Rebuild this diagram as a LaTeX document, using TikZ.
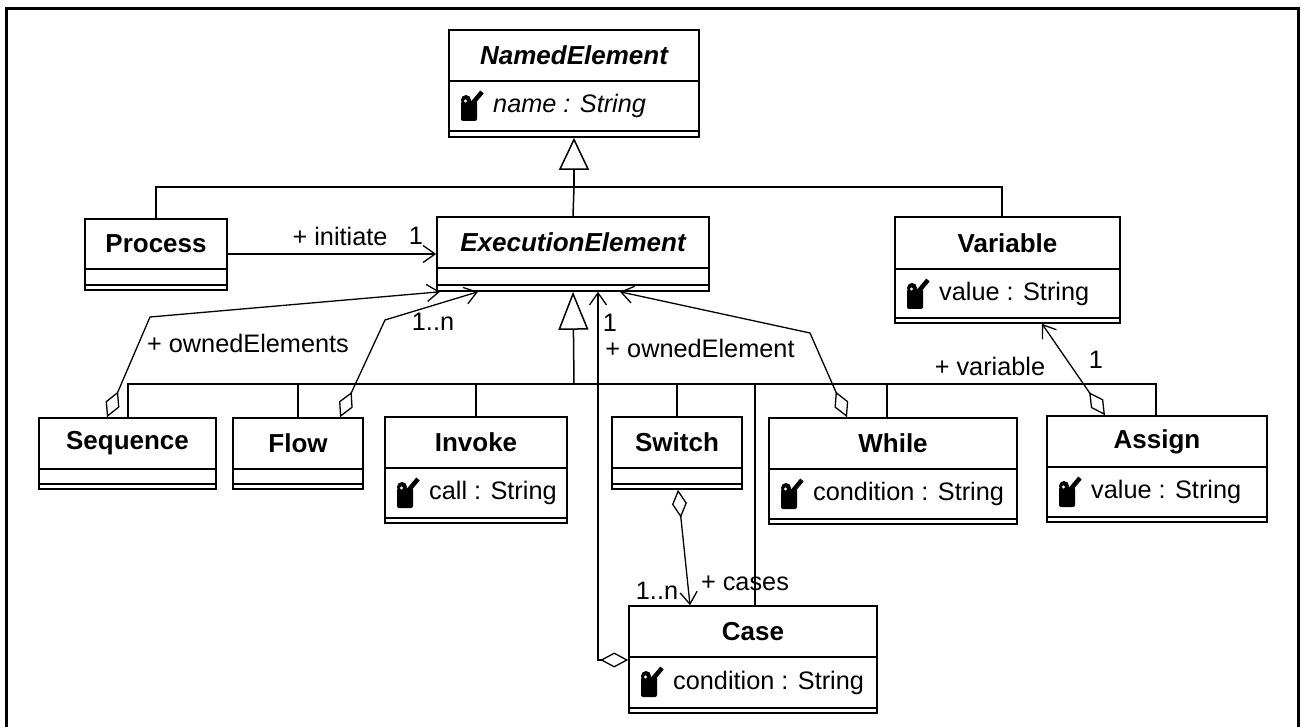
\documentclass[tikz,border=0pt]{standalone}
\usepackage{fontspec}
\setmainfont{Liberation Sans}
\usetikzlibrary{arrows.meta,fit}

\tikzset{
  classbox/.style={draw, line width=1.6pt, inner sep=0pt, fill=white},
  classline/.style={line width=1.6pt},
  titletext/.style={font=\fontsize{26}{31}\selectfont\bfseries, inner sep=0pt},
  attrtext/.style={font=\fontsize{25.3}{30}\selectfont, inner sep=0pt, anchor=west},
  lbl/.style={font=\fontsize{25.3}{30}\selectfont, inner sep=0pt},
  genline/.style={line width=1.5pt},
  assoc/.style={line width=1.3pt, -{Straight Barb[length=12pt,width=17pt]}},
  aggr/.style={line width=1.3pt, {Diamond[open,length=28pt,width=15pt]}-{Straight Barb[length=12pt,width=17pt]}},
  attricon/.pic={
    \fill[rounded corners=2pt] (0,31) -- (0,11) -- (16,11) -- (16,31) -- cycle;
    \fill (5,10) circle[radius=5pt];
    \draw[line width=4.5pt] (10,15) -- (21,2);
    \fill[white] (4.5,11) circle[radius=1.7pt];
  }
}

% #1 name, #2 left, #3 top, #4 right, #5 name/attribute divider,
% #6 attribute/operation divider, #7 bottom, #8 title, #9 attribute
\newcommand{\umlclass}[9]{%
  \node[classbox, fit={(#2,#3) (#4,#7)}] (#1) {};
  \draw[classline] (#2,#5) -- (#4,#5) (#2,#6) -- (#4,#6);
  \node[titletext] (#1-name) at ({(#2+#4)/2},{(#3+#5)/2}) {#8};
  \ifx\relax#9\relax\else
    \pic at ({#2+12},{#5+9}) {attricon};
    \node[attrtext] (#1-attr) at ({#2+44},{(#5+#6)/2}) {#9};
  \fi
}

\begin{document}
\begin{tikzpicture}[x=1pt,y=-1pt]
\useasboundingbox (0,0) rectangle (1301,727);

% frame
\draw[line width=3pt] (6,727) -- (6,9) -- (1298,9) -- (1298,727);

% classes
\umlclass{named}{449}{30}{699}{81}{131}{137}{\itshape NamedElement}{\itshape name : String}
\umlclass{process}{85}{219}{227}{269}{285}{290}{Process}{}
\umlclass{exec}{437}{217}{709}{268}{285}{291}{\itshape ExecutionElement}{}
\umlclass{variable}{895}{217}{1120}{269}{318}{323}{Variable}{value : String}
\umlclass{seq}{39}{418}{216}{469}{484}{489}{Sequence}{}
\umlclass{flow}{233}{418}{363}{469}{484}{489}{Flow}{}
\umlclass{invoke}{385}{417}{567}{468}{518}{523}{Invoke}{call : String}
\umlclass{switch}{612}{417}{742}{468}{484}{489}{Switch}{}
\umlclass{while}{769}{418}{1017}{469}{519}{524}{While}{condition : String}
\umlclass{assign}{1047}{416}{1267}{467}{517}{522}{Assign}{value : String}
\umlclass{case}{629}{606}{877}{657}{708}{713}{Case}{condition : String}

% generalization to NamedElement
\draw[genline] (process.north) -- (156,187) -- (1002,187) -- (1002,0 |- variable.north);
\draw[genline] (exec.north) -- (574,187);
\draw[genline, -{Triangle[open,length=32pt,width=30pt]}] (574,187) -- (named.south);

% generalization to ExecutionElement
\draw[genline] (128,0 |- seq.north) -- (128,384) -- (1156,384) -- (1156,0 |- assign.north);
\draw[genline] (flow.north) -- (flow.north |- 0,384);
\draw[genline] (invoke.north) -- (invoke.north |- 0,384);
\draw[genline] (switch.north) -- (switch.north |- 0,384);
\draw[genline] (755,0 |- case.north) -- (755,384);
\draw[genline] (887,0 |- while.north) -- (887,384);
\draw[genline, -{Triangle[open,length=38pt,width=30pt]}] (574,384) -- (exec.south);

% associations
\draw[assoc] (process.east |- 0,254) -- (exec.west |- 0,254);
\draw[aggr] (107,0 |- seq.north) -- (150,317) -- (440,0 |- exec.south);
\draw[aggr] (340,0 |- flow.north) -- (385,320) -- (478,0 |- exec.south);
\draw[aggr] (case.west |- 0,660) -- (598,660) -- (598,0 |- exec.south);
\draw[aggr] (847,0 |- while.north) -- (810,333) -- (620,0 |- exec.south);
\draw[aggr] (678,0 |- switch.south) -- (690,0 |- case.north);
\draw[aggr] (1105,0 |- assign.north) -- (1042,0 |- variable.south);

% role names and multiplicities
\node[lbl] (lab-initiate) at (340,236) {+ initiate};
\node[lbl] (lab-one-a) at (416,236) {1};
\node[lbl] (lab-owned-s) at (248,343) {+ ownedElements};
\node[lbl] (lab-many-a) at (433,322) {1..n};
\node[lbl] (lab-one-b) at (610,323) {1};
\node[lbl] (lab-owned) at (700,348) {+ ownedElement};
\node[lbl] (lab-many-b) at (657,591) {1..n};
\node[lbl] (lab-cases) at (745,583) {+ cases};
\node[lbl] (lab-var) at (990,366) {+ variable};
\node[lbl] (lab-one-c) at (1096,360) {1};
\end{tikzpicture}
\end{document}
